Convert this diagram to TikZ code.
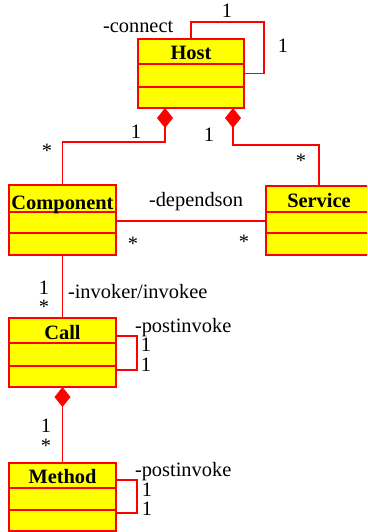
\documentclass[tikz,border=0pt]{standalone}
\usepackage{fontspec}
\setmainfont{Liberation Serif}
\newfontfamily\tms{Liberation Serif}
\usetikzlibrary{arrows.meta}
\definecolor{umlred}{HTML}{FF0000}
\definecolor{umlyellow}{HTML}{FFFF00}
\tikzset{
  classbox/.style={draw=umlred, fill=umlyellow, line width=2pt, minimum width=106pt, inner sep=0pt, outer sep=0pt},
  divider/.style={draw=umlred, line width=2pt},
  conn/.style={draw=umlred, line width=1.4pt, line join=miter},
  comp/.style={conn, {Diamond[length=20pt,width=16pt,fill=umlred,line width=0pt]}-},
  lbl/.style={inner sep=0pt, outer sep=0pt, font=\tms\fontsize{20.4}{24}\selectfont},
  cname/.style={lbl, font=\tms\fontsize{20.4}{24}\selectfont\bfseries},
}
\begin{document}
\begin{tikzpicture}[x=1pt, y=-1pt]
\useasboundingbox (0,0) rectangle (367,532);
\clip (0,0) rectangle (367,532);
% classes
\node[classbox, minimum height=69pt] (host) at (191,73.5) {};
\draw[divider] (138,64) -- (244,64) (138,87) -- (244,87);
\node[classbox, minimum width=107pt, minimum height=70pt] (compo) at (62.5,220) {};
\draw[divider] (9,212) -- (116,212) (9,233) -- (116,233);
\node[classbox, minimum height=69pt] (serv) at (319,220.5) {};
\draw[divider] (266,212) -- (372,212) (266,233) -- (372,233);
\node[classbox, minimum width=107pt, minimum height=69pt] (call) at (62.5,352.5) {};
\draw[divider] (9,343) -- (116,343) (9,366) -- (116,366);
\node[classbox, minimum width=107pt, minimum height=68pt] (meth) at (62.5,497) {};
\draw[divider] (9,488) -- (116,488) (9,510) -- (116,510);
% class names
\node[cname, anchor=base] (hostname) at (191,60) {Host};
\node[cname, anchor=base] (componame) at (62.5,209) {Component};
\node[cname, anchor=base] (servname) at (319,207) {Service};
\node[cname, anchor=base] (callname) at (62.5,339) {Call};
\node[cname, anchor=base] (methname) at (62.5,483) {Method};
% connectors
\draw[conn] (host.north) -- ++(0,-17) -| ([xshift=20pt]host.east) -- (host.east);
\draw[comp] ([xshift=-26pt]host.south) -- ++(0,34) -| (compo.north);
\draw[comp] ([xshift=42pt]host.south) -- ++(0,37) -| (serv.north);
\draw[conn] ([yshift=-1pt]compo.east) -- ([yshift=-0.5pt]serv.west);
\draw[conn] (compo.south) -- (call.north);
\draw[conn] ([yshift=16.5pt]call.east) -- ++(21,0) -- ++(0,34) -- ([yshift=-17.5pt]call.east);
\draw[comp] (call.south) -- (meth.north);
\draw[conn] ([yshift=17pt]meth.east) -- ++(21,0) -- ++(0,33) -- ([yshift=-16pt]meth.east);
% labels
\node[lbl, anchor=base west] (lconnect) at (103,33) {-connect};
\node[lbl, anchor=base] (l1) at (227,18) {1};
\node[lbl, anchor=base] (l2) at (283,53) {1};
\node[lbl, anchor=base] (l3) at (136,138) {1};
\node[lbl, anchor=base] (l4) at (209,141) {1};
\node[lbl, anchor=base] (l5) at (47,157) {*};
\node[lbl, anchor=base] (l6) at (301,167) {*};
\node[lbl, anchor=base west] (ldep) at (149,206) {-dependson};
\node[lbl, anchor=base] (l7) at (133,250) {*};
\node[lbl, anchor=base] (l8) at (244,248) {*};
\node[lbl, anchor=base] (l9) at (44,294) {1};
\node[lbl, anchor=base] (l10) at (44,313) {*};
\node[lbl, anchor=base west] (linv) at (68,298) {-invoker/invokee};
\node[lbl, anchor=base west] (lpost1) at (135,332) {-postinvoke};
\node[lbl, anchor=base] (l11) at (146,351) {1};
\node[lbl, anchor=base] (l12) at (146,371) {1};
\node[lbl, anchor=base] (l13) at (46,432) {1};
\node[lbl, anchor=base] (l14) at (46,452) {*};
\node[lbl, anchor=base west] (lpost2) at (135,476) {-postinvoke};
\node[lbl, anchor=base] (l15) at (147,496) {1};
\node[lbl, anchor=base] (l16) at (147,515) {1};
\end{tikzpicture}
\end{document}
